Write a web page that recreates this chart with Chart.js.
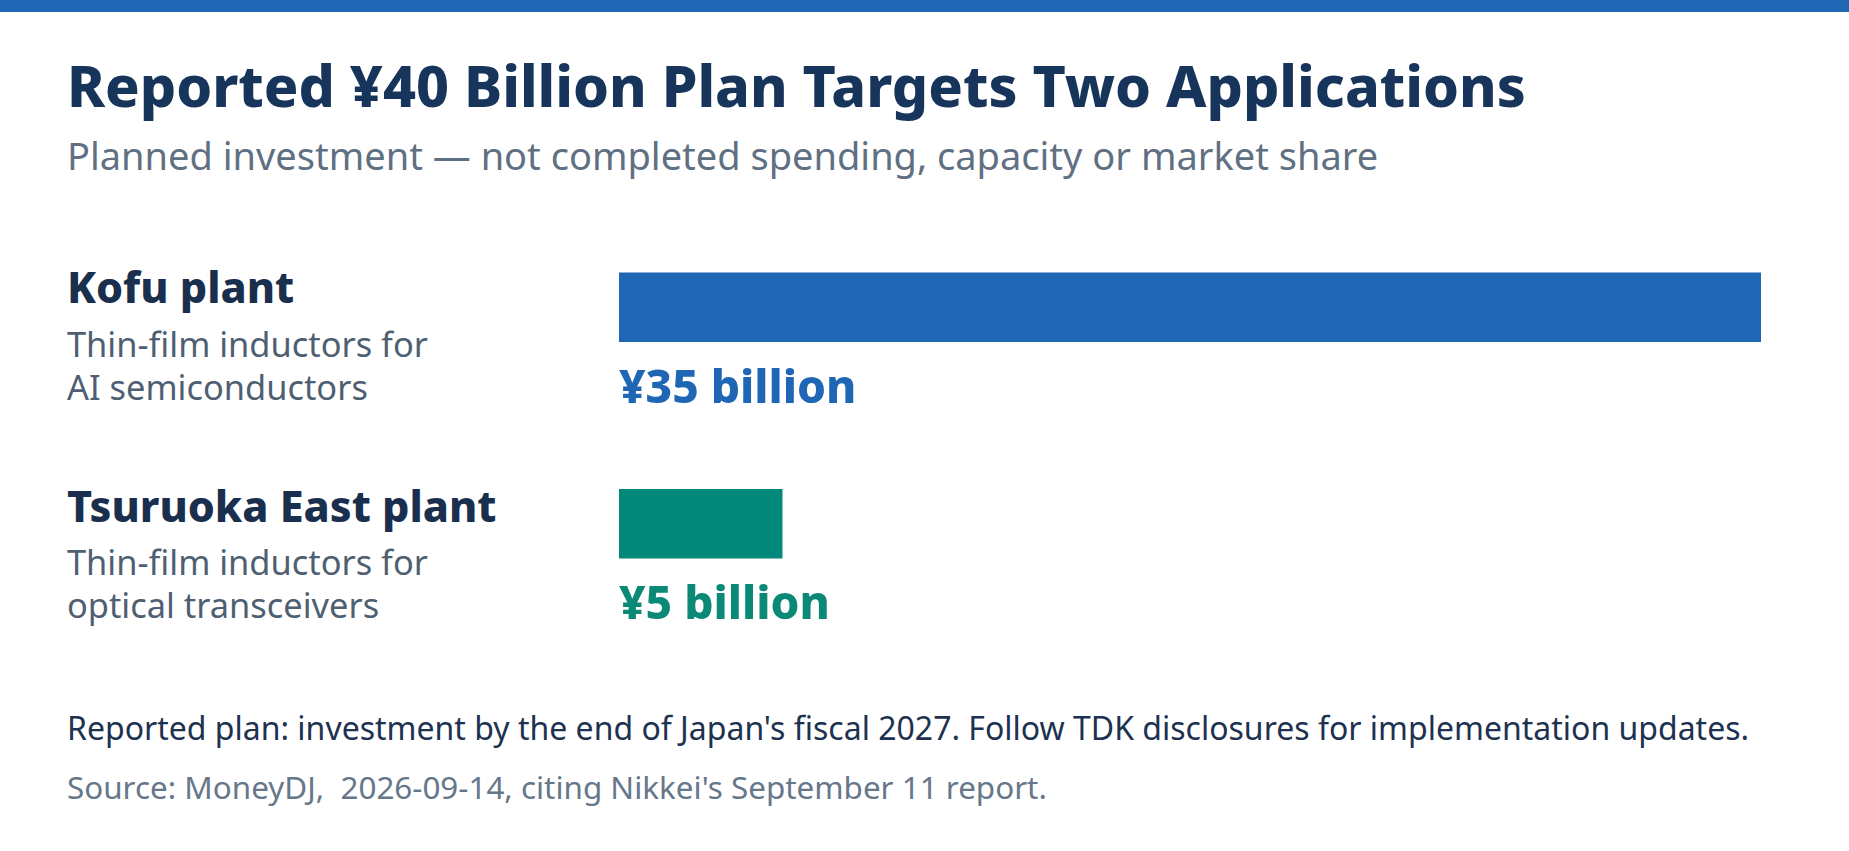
<!DOCTYPE html>
<html>
<head>
<meta charset="utf-8">
<script src="https://cdn.jsdelivr.net/npm/chart.js@4.4.1/dist/chart.umd.min.js"></script>
<style>
  html, body { margin: 0; padding: 0; background: #ffffff; }
  body { width: 1849px; height: 851px; position: relative; overflow: hidden; font-family: "Noto Sans", "Open Sans", sans-serif; }
  .topbar { position: absolute; left: 0; top: 0; width: 1849px; height: 12px; background: #1f66b5; }
  .t { position: absolute; left: 67px; white-space: nowrap; }
  #title { top: 57px; font-size: 57.2px; line-height: 57.2px; font-weight: 800; color: #17345a; }
  #subtitle { top: 136px; font-size: 38px; line-height: 38px; color: #5f7083; }
  .name { font-size: 43px; line-height: 43px; font-weight: 800; color: #1a2f4d; }
  .desc { font-size: 34.4px; line-height: 43px; color: #4f5f72; }
  #note { top: 712px; font-size: 32px; line-height: 32px; color: #1d3250; }
  #source { top: 771px; font-size: 31.4px; line-height: 31.4px; color: #66778a; }
  #chartBox { position: absolute; left: 619px; top: 199px; width: 1142px; height: 433px; }
</style>
</head>
<body>
<div class="topbar"></div>
<div class="t" id="title">Reported ¥40 Billion Plan Targets Two Applications</div>
<div class="t" id="subtitle">Planned investment — not completed spending, capacity or market share</div>
<div class="t name" style="top:265px">Kofu plant</div>
<div class="t desc" style="top:322px">Thin-film inductors for<br>AI semiconductors</div>
<div class="t name" style="top:484px">Tsuruoka East plant</div>
<div class="t desc" style="top:540px">Thin-film inductors for<br>optical transceivers</div>
<div class="t" id="note">Reported plan: investment by the end of Japan's fiscal 2027. Follow TDK disclosures for implementation updates.</div>
<div class="t" id="source">Source: MoneyDJ,&nbsp; 2026-09-14, citing Nikkei's September 11 report.</div>
<div id="chartBox"><canvas id="planChart"></canvas></div>

<script>
// planned investment, billions of yen
const plants = ["Kofu plant", "Tsuruoka East plant"];
const investment = [35, 5];
const valueLabels = ["¥35 billion", "¥5 billion"];
const barColors = ["#1f66b5", "#03897a"];
const labelColors = ["#1f66b5", "#0a8a76"];

// draws "¥xx billion" under each bar
const valueLabelPlugin = {
  id: "valueLabels",
  afterDatasetsDraw(chart) {
    const ctx = chart.ctx;
    const meta = chart.getDatasetMeta(0);
    ctx.save();
    ctx.font = "800 46px 'Noto Sans', 'Open Sans', sans-serif";
    ctx.textAlign = "left";
    ctx.textBaseline = "alphabetic";
    meta.data.forEach((bar, i) => {
      const bottom = bar.y + bar.height / 2;
      ctx.fillStyle = labelColors[i];
      ctx.fillText(valueLabels[i], chart.chartArea.left, bottom + 61);
    });
    ctx.restore();
  },
};

new Chart(document.getElementById("planChart"), {
  type: "bar",
  data: {
    labels: plants,
    datasets: [{
      label: "Planned investment",
      data: investment,
      backgroundColor: barColors,
      borderWidth: 0,
      barThickness: 69,
    }],
  },
  options: {
    indexAxis: "y",
    responsive: true,
    maintainAspectRatio: false,
    animation: false,
    layout: { padding: 0 },
    plugins: {
      legend: { display: false },
      tooltip: { enabled: false },
    },
    scales: {
      x: { display: false, min: 0, max: 35 },
      y: { display: false },
    },
  },
  plugins: [valueLabelPlugin],
});
</script>
</body>
</html>
